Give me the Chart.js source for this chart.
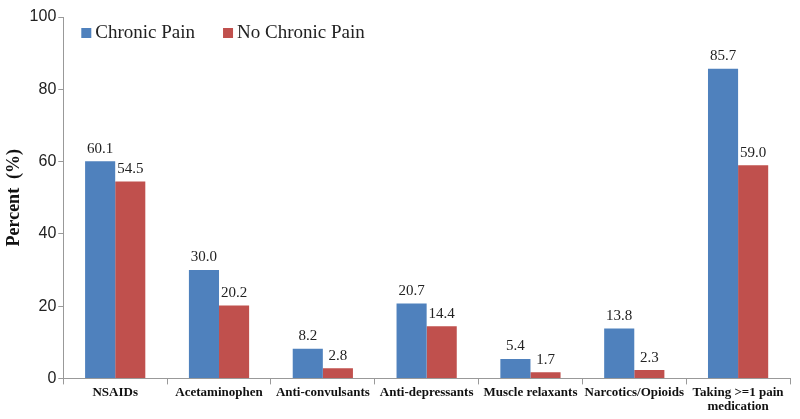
<!DOCTYPE html>
<html>
<head>
<meta charset="UTF-8">
<script src="https://cdn.jsdelivr.net/npm/chart.js"></script>
<style>
  body { margin: 0; background: #fff; }
  #wrap { width: 800px; height: 419px; }
</style>
</head>
<body>
<div id="wrap"><canvas id="chart"></canvas></div>
<script>
  const categories = ['NSAIDs', 'Acetaminophen', 'Anti-convulsants', 'Anti-depressants',
    'Muscle relaxants', 'Narcotics/Opioids', ['Taking >=1 pain', 'medication']];
  const chronicPain = [60.1, 30.0, 8.2, 20.7, 5.4, 13.8, 85.7];
  const noChronicPain = [54.5, 20.2, 2.8, 14.4, 1.7, 2.3, 59.0];
  const yTicks = [0, 20, 40, 60, 80, 100];

  // draw the value above each bar
  const barLabels = {
    id: 'barLabels',
    afterDatasetsDraw(chart) {
      const ctx = chart.ctx;
      ctx.save();
      ctx.font = '15px "Liberation Serif", serif';
      ctx.fillStyle = '#222';
      ctx.textAlign = 'center';
      ctx.textBaseline = 'bottom';
      chart.data.datasets.forEach((ds, i) => {
        chart.getDatasetMeta(i).data.forEach((bar, j) => {
          ctx.fillText(ds.data[j].toFixed(1), bar.x, bar.y - 5);
        });
      });
      ctx.restore();
    }
  };

  // legend drawn in one row inside the plot, top left
  const insideLegend = {
    id: 'insideLegend',
    afterDraw(chart) {
      const ctx = chart.ctx;
      const area = chart.chartArea;
      let x = area.left + 18;
      const y = area.top + 16;
      ctx.save();
      ctx.font = '19px "Liberation Serif", serif';
      ctx.textBaseline = 'middle';
      chart.data.datasets.forEach(ds => {
        ctx.fillStyle = ds.backgroundColor;
        ctx.fillRect(x, y - 5, 10, 10);
        ctx.fillStyle = '#222';
        ctx.fillText(ds.label, x + 14, y);
        x += 14 + ctx.measureText(ds.label).width + 28;
      });
      ctx.restore();
    }
  };

  new Chart(document.getElementById('chart'), {
    type: 'bar',
    data: {
      labels: categories,
      datasets: [
        { label: 'Chronic Pain', data: chronicPain, backgroundColor: '#4F81BD' },
        { label: 'No Chronic Pain', data: noChronicPain, backgroundColor: '#C0504D' }
      ]
    },
    options: {
      responsive: true,
      maintainAspectRatio: false,
      animation: false,
      layout: { padding: { top: 17, right: 10, left: 2, bottom: 4 } },
      datasets: { bar: { categoryPercentage: 0.58, barPercentage: 1.0 } },
      plugins: {
        legend: { display: false },
        tooltip: { enabled: false }
      },
      scales: {
        x: {
          offset: true,
          grid: { display: true, drawOnChartArea: false, offset: true, tickLength: 6, color: '#999' },
          border: { color: '#999' },
          ticks: {
            color: '#111', maxRotation: 0, autoSkip: false, padding: 1,
            font: { family: '"Liberation Serif", serif', size: 13, weight: 'bold', lineHeight: 1.1 }
          }
        },
        y: {
          min: 0, max: 100,
          afterBuildTicks(axis) { axis.ticks = yTicks.map(v => ({ value: v })); },
          grid: { display: true, drawOnChartArea: false, tickLength: 5, color: '#999' },
          border: { color: '#999' },
          ticks: {
            color: '#222', padding: 2,
            font: { family: '"Liberation Sans", sans-serif', size: 16 }
          },
          title: {
            display: true, text: 'Percent  (%)', color: '#111', padding: 2,
            font: { family: '"Liberation Serif", serif', size: 18, weight: 'bold' }
          }
        }
      }
    },
    plugins: [barLabels, insideLegend]
  });
</script>
</body>
</html>
